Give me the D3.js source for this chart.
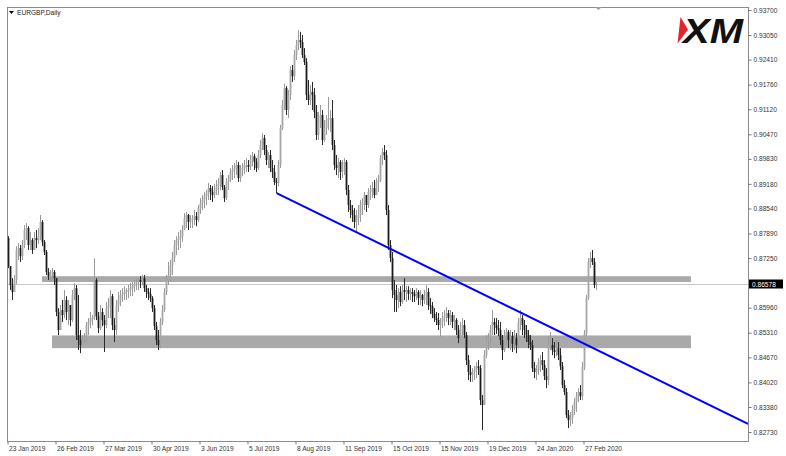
<!DOCTYPE html>
<html>
<head>
<meta charset="utf-8">
<script src="https://cdn.jsdelivr.net/npm/d3@7"></script>
<style>
  body { margin: 0; background: #fff; }
  text { font-family: "Liberation Sans", Arial, sans-serif; }
</style>
</head>
<body>
<div id="chart"></div>
<script>
// EURGBP daily candles (one value per bar)
const title = "EURGBP,Daily";
const firstOpen = 0.8777;
const closes = [
  0.8704,0.8655,0.8637,0.8668,0.8746,0.8751,0.8730,0.8759,0.8798,0.8803,
  0.8759,0.8772,0.8746,0.8777,0.8772,0.8782,0.8819,0.8767,0.8741,0.8689,
  0.8678,0.8684,0.8689,0.8673,0.8585,0.8538,0.8590,0.8577,0.8616,0.8585,
  0.8603,0.8564,0.8629,0.8647,0.8525,0.8512,0.8499,0.8512,0.8517,0.8551,
  0.8559,0.8569,0.8569,0.8668,0.8574,0.8543,0.8585,0.8564,0.8551,0.8595,
  0.8603,0.8626,0.8551,0.8538,0.8603,0.8616,0.8629,0.8632,0.8637,0.8642,
  0.8642,0.8647,0.8652,0.8658,0.8663,0.8668,0.8663,0.8673,0.8647,0.8637,
  0.8632,0.8621,0.8595,0.8548,0.8512,0.8499,0.8559,0.8590,0.8637,0.8668,
  0.8681,0.8707,0.8725,0.8759,0.8772,0.8777,0.8782,0.8798,0.8829,0.8837,
  0.8819,0.8824,0.8829,0.8834,0.8824,0.8855,0.8868,0.8876,0.8886,0.8892,
  0.8907,0.8897,0.8889,0.8902,0.8912,0.8918,0.8941,0.8910,0.8881,0.8923,
  0.8928,0.8949,0.8954,0.8959,0.8967,0.8933,0.8954,0.8959,0.8967,0.8967,
  0.8962,0.8980,0.8990,0.8975,0.8959,0.8993,0.9019,0.9037,0.9006,0.8980,
  0.8993,0.8959,0.8949,0.8923,0.8920,0.8967,0.9063,0.9123,0.9167,0.9110,
  0.9149,0.9214,0.9198,0.9253,0.9279,0.9292,0.9287,0.9253,0.9235,0.9149,
  0.9136,0.9157,0.9149,0.9105,0.9045,0.9079,0.9097,0.9032,0.9063,0.9084,
  0.9089,0.9089,0.9019,0.8967,0.8959,0.8975,0.8949,0.8967,0.8975,0.8902,
  0.8863,0.8850,0.8837,0.8819,0.8829,0.8837,0.8863,0.8871,0.8889,0.8863,
  0.8897,0.8902,0.8907,0.8889,0.8923,0.8928,0.8985,0.9001,0.8993,0.8850,
  0.8759,0.8725,0.8642,0.8629,0.8616,0.8637,0.8611,0.8642,0.8637,0.8642,
  0.8632,0.8637,0.8632,0.8626,0.8637,0.8621,0.8629,0.8616,0.8626,0.8637,
  0.8603,0.8600,0.8580,0.8569,0.8564,0.8551,0.8559,0.8569,0.8574,0.8582,
  0.8569,0.8577,0.8559,0.8564,0.8538,0.8517,0.8543,0.8551,0.8525,0.8460,
  0.8429,0.8421,0.8429,0.8434,0.8444,0.8439,0.8356,0.8343,0.8473,0.8512,
  0.8517,0.8538,0.8559,0.8551,0.8543,0.8538,0.8512,0.8486,0.8525,0.8533,
  0.8512,0.8522,0.8502,0.8517,0.8499,0.8559,0.8569,0.8551,0.8538,0.8525,
  0.8507,0.8499,0.8439,0.8429,0.8434,0.8455,0.8460,0.8447,0.8418,0.8408,
  0.8499,0.8499,0.8486,0.8481,0.8491,0.8473,0.8444,0.8395,0.8377,0.8317,
  0.8304,0.8309,0.8330,0.8351,0.8366,0.8377,0.8366,0.8442,0.8528,0.8621,
  0.8715,0.8725,0.8715,0.8655,0.86578
];
const highs = [
  0.8782,0.8699,0.8673,0.8681,0.8756,0.8764,0.8759,0.8772,0.8811,0.8816,
  0.8808,0.8793,0.8777,0.8793,0.8798,0.8803,0.8837,0.8824,0.8772,0.8746,
  0.8699,0.8694,0.8699,0.8694,0.8673,0.8595,0.8603,0.8616,0.8642,0.8626,
  0.8616,0.8603,0.8642,0.8660,0.8655,0.8629,0.8538,0.8525,0.8530,0.8559,
  0.8569,0.8585,0.8577,0.8725,0.8673,0.8585,0.8603,0.8595,0.8577,0.8611,
  0.8621,0.8642,0.8632,0.8569,0.8616,0.8637,0.8642,0.8647,0.8652,0.8647,
  0.8655,0.8660,0.8663,0.8668,0.8671,0.8673,0.8678,0.8681,0.8681,0.8655,
  0.8647,0.8647,0.8626,0.8603,0.8559,0.8538,0.8569,0.8603,0.8647,0.8681,
  0.8715,0.8720,0.8741,0.8772,0.8782,0.8793,0.8798,0.8811,0.8842,0.8845,
  0.8840,0.8837,0.8837,0.8850,0.8845,0.8863,0.8881,0.8889,0.8897,0.8902,
  0.8920,0.8915,0.8912,0.8918,0.8928,0.8933,0.8949,0.8954,0.8915,0.8933,
  0.8941,0.8959,0.8967,0.8972,0.8980,0.8975,0.8967,0.8972,0.8980,0.8985,
  0.8980,0.8993,0.9001,0.8996,0.8985,0.9006,0.9032,0.9050,0.9045,0.9019,
  0.9001,0.9006,0.8980,0.8967,0.8933,0.8980,0.9071,0.9136,0.9178,0.9172,
  0.9162,0.9224,0.9227,0.9266,0.9292,0.9318,0.9313,0.9305,0.9271,0.9245,
  0.9188,0.9175,0.9183,0.9167,0.9123,0.9105,0.9123,0.9110,0.9084,0.9097,
  0.9144,0.9110,0.9136,0.9032,0.8993,0.8985,0.8980,0.8980,0.8985,0.8980,
  0.8915,0.8876,0.8863,0.8855,0.8850,0.8863,0.8876,0.8881,0.8897,0.8889,
  0.8907,0.8915,0.8923,0.8928,0.8933,0.8941,0.8993,0.9011,0.9019,0.9006,
  0.8863,0.8772,0.8741,0.8668,0.8655,0.8647,0.8652,0.8655,0.8673,0.8652,
  0.8652,0.8647,0.8647,0.8642,0.8647,0.8642,0.8642,0.8632,0.8642,0.8655,
  0.8647,0.8621,0.8611,0.8595,0.8585,0.8582,0.8569,0.8585,0.8590,0.8598,
  0.8590,0.8590,0.8585,0.8577,0.8569,0.8551,0.8559,0.8569,0.8564,0.8533,
  0.8473,0.8447,0.8439,0.8444,0.8455,0.8460,0.8447,0.8369,0.8486,0.8525,
  0.8530,0.8551,0.8590,0.8569,0.8569,0.8564,0.8559,0.8525,0.8538,0.8543,
  0.8538,0.8538,0.8533,0.8538,0.8530,0.8569,0.8590,0.8577,0.8564,0.8551,
  0.8538,0.8525,0.8512,0.8455,0.8447,0.8465,0.8473,0.8481,0.8460,0.8439,
  0.8520,0.8533,0.8517,0.8507,0.8512,0.8507,0.8491,0.8455,0.8408,0.8387,
  0.8330,0.8325,0.8343,0.8361,0.8377,0.8387,0.8395,0.8455,0.8538,0.8629,
  0.8725,0.8741,0.8746,0.8725,0.8663
];
const lows = [
  0.8699,0.8642,0.8616,0.8637,0.8658,0.8720,0.8715,0.8720,0.8751,0.8772,
  0.8746,0.8746,0.8736,0.8746,0.8751,0.8762,0.8772,0.8756,0.8733,0.8681,
  0.8668,0.8663,0.8668,0.8655,0.8574,0.8525,0.8551,0.8559,0.8569,0.8564,
  0.8551,0.8548,0.8559,0.8616,0.8512,0.8486,0.8478,0.8499,0.8504,0.8507,
  0.8525,0.8543,0.8551,0.8564,0.8564,0.8530,0.8538,0.8548,0.8481,0.8543,
  0.8569,0.8569,0.8538,0.8507,0.8525,0.8585,0.8600,0.8611,0.8616,0.8616,
  0.8621,0.8626,0.8626,0.8637,0.8642,0.8642,0.8647,0.8655,0.8637,0.8621,
  0.8616,0.8611,0.8585,0.8538,0.8499,0.8486,0.8491,0.8551,0.8585,0.8629,
  0.8655,0.8663,0.8681,0.8715,0.8733,0.8746,0.8751,0.8767,0.8798,0.8803,
  0.8798,0.8803,0.8803,0.8811,0.8808,0.8819,0.8840,0.8850,0.8855,0.8863,
  0.8876,0.8876,0.8871,0.8881,0.8889,0.8889,0.8902,0.8902,0.8871,0.8876,
  0.8902,0.8923,0.8928,0.8933,0.8941,0.8923,0.8923,0.8938,0.8944,0.8949,
  0.8949,0.8954,0.8964,0.8954,0.8949,0.8954,0.8985,0.9006,0.8993,0.8967,
  0.8959,0.8949,0.8933,0.8915,0.8894,0.8912,0.8959,0.9058,0.9110,0.9097,
  0.9089,0.9136,0.9183,0.9188,0.9240,0.9266,0.9271,0.9245,0.9227,0.9136,
  0.9123,0.9123,0.9110,0.9089,0.9032,0.9032,0.9063,0.9019,0.9027,0.9045,
  0.9058,0.9053,0.9006,0.8954,0.8941,0.8933,0.8928,0.8933,0.8941,0.8889,
  0.8845,0.8829,0.8819,0.8803,0.8793,0.8811,0.8819,0.8837,0.8850,0.8845,
  0.8855,0.8876,0.8881,0.8881,0.8889,0.8897,0.8923,0.8967,0.8980,0.8837,
  0.8746,0.8715,0.8621,0.8585,0.8585,0.8595,0.8600,0.8606,0.8616,0.8611,
  0.8616,0.8616,0.8611,0.8611,0.8616,0.8603,0.8603,0.8600,0.8606,0.8603,
  0.8590,0.8580,0.8569,0.8559,0.8551,0.8538,0.8520,0.8543,0.8548,0.8559,
  0.8551,0.8551,0.8543,0.8538,0.8525,0.8504,0.8512,0.8522,0.8517,0.8447,
  0.8408,0.8403,0.8403,0.8408,0.8413,0.8421,0.8343,0.8278,0.8343,0.8465,
  0.8486,0.8499,0.8525,0.8525,0.8528,0.8522,0.8499,0.8460,0.8481,0.8499,
  0.8491,0.8486,0.8481,0.8486,0.8478,0.8491,0.8538,0.8525,0.8517,0.8507,
  0.8491,0.8486,0.8429,0.8413,0.8408,0.8421,0.8429,0.8434,0.8408,0.8387,
  0.8395,0.8486,0.8473,0.8465,0.8470,0.8460,0.8434,0.8387,0.8369,0.8309,
  0.8283,0.8288,0.8294,0.8317,0.8325,0.8351,0.8356,0.8356,0.8434,0.8522,
  0.8616,0.8699,0.8707,0.8647,0.8642
];
const lastPrice = 0.86578;

const priceTicks = [0.93700,0.93050,0.92410,0.91760,0.91120,0.90470,0.89830,0.89180,0.88540,
                    0.87890,0.87250,0.85960,0.85310,0.84670,0.84020,0.83380,0.82730];
const dateLabels = ["23 Jan 2019","26 Feb 2019","27 Mar 2019","30 Apr 2019","3 Jun 2019","5 Jul 2019",
                    "8 Aug 2019","11 Sep 2019","15 Oct 2019","15 Nov 2019","19 Dec 2019","24 Jan 2020","27 Feb 2020"];
const dateBars = [0,24,48,72,96,120,144,168,192,216,240,264,288];

// support / resistance zones (bar index from..to, price top..bottom)
const zones = [
  {from: 17, to: 341.5, top: 0.8678, bottom: 0.8663},
  {from: 22, to: 341.5, top: 0.8524, bottom: 0.8491}
];
// trend line anchors (bar index, price)
const trendLine = [[134.3, 0.8894], [370, 0.8294]];

const width = 786, height = 456;
const plot = {left: 7, top: 7, right: 748, bottom: 441};

const svg = d3.select("#chart").append("svg")
  .attr("width", width)
  .attr("height", height);

const x = d3.scaleLinear().domain([0, 370]).range([8, 748]);
const y = d3.scaleLinear().domain([0.8273, 0.9370]).range([432, 10]);

svg.append("clipPath").attr("id", "clip")
  .append("rect")
  .attr("x", plot.left).attr("y", plot.top)
  .attr("width", plot.right - plot.left).attr("height", plot.bottom - plot.top);

const g = svg.append("g").attr("clip-path", "url(#clip)");

// current price line
g.append("line")
  .attr("x1", plot.left).attr("x2", plot.right)
  .attr("y1", Math.round(y(lastPrice)) + 0.5).attr("y2", Math.round(y(lastPrice)) + 0.5)
  .attr("stroke", "#c8c8c8").attr("stroke-width", 1);

// zones
g.selectAll("rect.zone")
  .data(zones)
  .enter()
  .append("rect")
  .attr("class", "zone")
  .attr("x", d => x(d.from))
  .attr("width", d => x(d.to) - x(d.from))
  .attr("y", d => y(d.top))
  .attr("height", d => y(d.bottom) - y(d.top))
  .attr("fill", "#a9a9a9");

// candles
const bars = closes.map((c, i) => {
  const o = i === 0 ? firstOpen : closes[i - 1];
  return {i: i, o: o, c: c, h: Math.max(highs[i], o, c), l: Math.min(lows[i], o, c)};
});

const candle = g.selectAll("g.candle")
  .data(bars)
  .enter()
  .append("g")
  .attr("class", "candle");

candle.append("line")
  .attr("x1", d => Math.round(x(d.i)) + 0.5)
  .attr("x2", d => Math.round(x(d.i)) + 0.5)
  .attr("y1", d => y(d.h))
  .attr("y2", d => y(d.l))
  .attr("stroke", d => d.c >= d.o ? "#9a9a9a" : "#2a2a2a")
  .attr("stroke-width", 1);

candle.append("rect")
  .attr("x", d => Math.round(x(d.i)) - 0.4)
  .attr("width", 1.8)
  .attr("y", d => y(Math.max(d.o, d.c)))
  .attr("height", d => Math.max(1, Math.abs(y(d.o) - y(d.c))))
  .attr("fill", d => d.c >= d.o ? "#a6a6a6" : "#1a1a1a");

// trend line
g.append("line")
  .attr("x1", x(trendLine[0][0])).attr("y1", y(trendLine[0][1]))
  .attr("x2", x(trendLine[1][0])).attr("y2", y(trendLine[1][1]))
  .attr("stroke", "#0000ff").attr("stroke-width", 2);

// frame
svg.append("rect")
  .attr("x", plot.left + 0.5).attr("y", plot.top + 0.5)
  .attr("width", plot.right - plot.left).attr("height", plot.bottom - plot.top)
  .attr("fill", "none").attr("stroke", "#8c8c8c");

// price axis
const yAxis = svg.append("g")
  .attr("transform", `translate(${plot.right + 0.5},0)`)
  .call(d3.axisRight(y).tickValues(priceTicks).tickSize(3).tickPadding(2).tickFormat(d3.format(".5f")));
yAxis.select(".domain").remove();
yAxis.selectAll("line").attr("stroke", "#777");
yAxis.selectAll("text").attr("fill", "#333").style("font-size", "6.6px");

// last price tag
const tagY = Math.round(y(lastPrice));
svg.append("rect")
  .attr("x", plot.right + 1).attr("y", tagY - 4.5)
  .attr("width", 34).attr("height", 9)
  .attr("fill", "#000");
svg.append("text")
  .attr("x", plot.right + 4).attr("y", tagY + 2.5)
  .attr("fill", "#fff").style("font-size", "6.6px")
  .text(d3.format(".5f")(lastPrice));

// date axis
const xAxis = svg.append("g")
  .attr("transform", `translate(-0.5,${plot.bottom + 0.5})`)
  .call(d3.axisBottom(x).tickValues(dateBars).tickSize(3).tickPadding(2).tickFormat((d, i) => dateLabels[i]));
xAxis.select(".domain").remove();
xAxis.selectAll("line").attr("stroke", "#777");
xAxis.selectAll("text").attr("fill", "#333").attr("text-anchor", "start").attr("dx", "1px").style("font-size", "6.6px");

// title
svg.append("path")
  .attr("d", "M9,11 L14,11 L11.5,14 Z")
  .attr("fill", "#000");
svg.append("text")
  .attr("x", 17).attr("y", 15)
  .attr("fill", "#222").style("font-size", "6.6px")
  .text(title);

// chart shift marker on top frame
svg.append("path")
  .attr("d", "M595,7 L602,7 L598.5,10 Z")
  .attr("fill", "#a0a0a0");

// XM logo
svg.append("path")
  .attr("d", "M680.5,17 L688,29.5 L677.5,43.5 Z")
  .attr("fill", "#e8222a");
svg.append("text")
  .attr("x", 683).attr("y", 43)
  .attr("textLength", 60).attr("lengthAdjust", "spacingAndGlyphs")
  .style("font-size", "35px").style("font-weight", "900").style("font-style", "italic")
  .attr("fill", "#111")
  .text("XM");
</script>
</body>
</html>
